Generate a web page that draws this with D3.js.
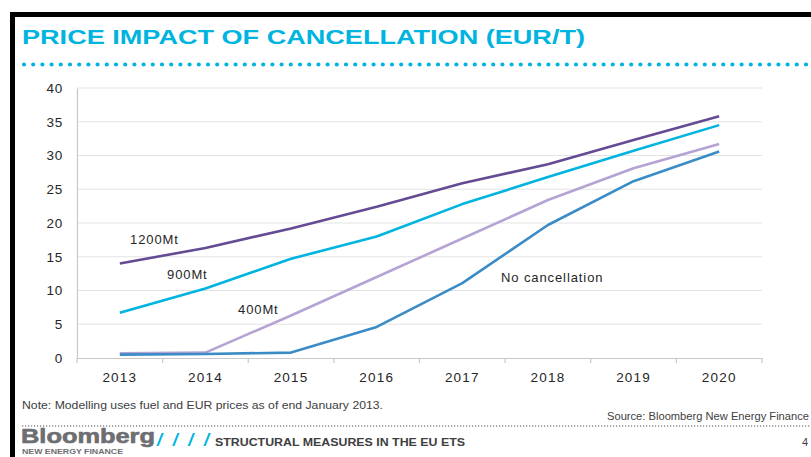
<!DOCTYPE html>
<html>
<head>
<meta charset="utf-8">
<script src="https://cdn.jsdelivr.net/npm/d3@7"></script>
<style>
  html, body { margin: 0; padding: 0; background: #fff; }
  svg { display: block; font-family: "Liberation Sans", Arial, sans-serif; }
</style>
</head>
<body>
<svg id="chart" width="811" height="457"></svg>
<script>
// ---- data ----
const years = ["2013", "2014", "2015", "2016", "2017", "2018", "2019", "2020"];
const yTicks = [0, 5, 10, 15, 20, 25, 30, 35, 40];
const seriesNames = ["1200Mt", "900Mt", "400Mt", "No cancellation"];
const s1200 = [14.0, 16.3, 19.2, 22.4, 25.9, 28.7, 32.3, 35.8];
const s900  = [6.7, 10.3, 14.7, 18.0, 22.8, 26.8, 30.7, 34.5];
const s400  = [0.7, 0.8, 6.3, 12.0, 17.7, 23.4, 28.1, 31.7];
const sNone = [0.5, 0.6, 0.8, 4.6, 11.1, 19.7, 26.2, 30.6];
const seriesColors = ["#644b93", "#00b4e0", "#b4a3d3", "#3b8cc6"];

const title = "PRICE IMPACT OF CANCELLATION (EUR/T)";
const note = "Note: Modelling uses fuel and EUR prices as of end January 2013.";
const source = "Source: Bloomberg New Energy Finance";
const footerTitle = "STRUCTURAL MEASURES IN THE EU ETS";
const pageNum = "4";

// ---- layout ----
const svg = d3.select("#chart");
const W = 811, H = 457;
const plot = { left: 77, right: 762, top: 88, bottom: 358 };

// slide frame
svg.append("rect").attr("x", 10).attr("y", 12).attr("width", W - 10).attr("height", 5).attr("fill", "#000");
svg.append("rect").attr("x", 10).attr("y", 12).attr("width", 5).attr("height", H - 12).attr("fill", "#000");

// title
svg.append("text").attr("x", 22).attr("y", 44)
  .attr("font-size", 21).attr("font-weight", "bold").attr("fill", "#00b4e0")
  .attr("textLength", 563).attr("lengthAdjust", "spacingAndGlyphs")
  .text(title);

// dotted line under title
svg.append("line").attr("x1", 24).attr("x2", W).attr("y1", 64.5).attr("y2", 64.5)
  .attr("stroke", "#00b4e0").attr("stroke-width", 4.2)
  .attr("stroke-linecap", "round").attr("stroke-dasharray", "0 9.2");

// scales
const x = d3.scaleBand().domain(years).range([plot.left, plot.right]);
const y = d3.scaleLinear().domain([0, 40]).range([plot.bottom, plot.top]);

// gridlines
svg.append("g").selectAll("line").data(yTicks.filter(d => d > 0)).join("line")
  .attr("x1", plot.left).attr("x2", plot.right)
  .attr("y1", d => y(d)).attr("y2", d => y(d))
  .attr("stroke", "#e3e3e3").attr("stroke-width", 1.2);

// y axis
const yAxis = svg.append("g").attr("transform", `translate(${plot.left},0)`)
  .call(d3.axisLeft(y).tickValues(yTicks).tickSize(0).tickPadding(14));
yAxis.select(".domain").attr("stroke", "#c8c8c8").attr("stroke-width", 1.2);
yAxis.selectAll("text").attr("font-size", 13.5).attr("fill", "#262626")
  .attr("font-family", "Liberation Sans, Arial, sans-serif").attr("letter-spacing", 0.8);

// x axis
const xAxis = svg.append("g").attr("transform", `translate(0,${plot.bottom})`)
  .call(d3.axisBottom(x).tickSize(0).tickPadding(14));
xAxis.select(".domain").attr("stroke", "#c8c8c8").attr("stroke-width", 1.2);
xAxis.selectAll("text").attr("font-size", 13.5).attr("fill", "#262626")
  .attr("font-family", "Liberation Sans, Arial, sans-serif").attr("letter-spacing", 1.2);
// tick marks at category boundaries
const bounds = years.map(d => x(d)).concat([plot.right]);
svg.append("g").selectAll("line").data(bounds).join("line")
  .attr("x1", d => d).attr("x2", d => d)
  .attr("y1", plot.bottom).attr("y2", plot.bottom + 5)
  .attr("stroke", "#c8c8c8").attr("stroke-width", 1.2);

// lines
const allSeries = [s1200, s900, s400, sNone];
const line = d3.line()
  .x((d, i) => x(years[i]) + x.bandwidth() / 2)
  .y(d => y(d));
const drawOrder = [2, 3, 1, 0];
drawOrder.forEach(k => {
  svg.append("path").datum(allSeries[k])
    .attr("d", line).attr("fill", "none")
    .attr("stroke", seriesColors[k]).attr("stroke-width", 2.6)
    .attr("stroke-linejoin", "round");
});

// series labels
const labelPos = [
  { name: seriesNames[0], x: 130, y: 244 },
  { name: seriesNames[1], x: 167, y: 279 },
  { name: seriesNames[2], x: 238, y: 314 },
  { name: seriesNames[3], x: 501, y: 282 }
];
svg.append("g").selectAll("text").data(labelPos).join("text")
  .attr("x", d => d.x).attr("y", d => d.y)
  .attr("font-size", 13).attr("fill", "#262626").attr("letter-spacing", 0.9)
  .text(d => d.name);

// footer note & source
svg.append("text").attr("x", 22).attr("y", 409)
  .attr("font-size", 10.5).attr("fill", "#404040")
  .attr("textLength", 361).attr("lengthAdjust", "spacingAndGlyphs")
  .text(note);
svg.append("text").attr("x", 607).attr("y", 420)
  .attr("font-size", 10.5).attr("fill", "#404040")
  .attr("textLength", 202).attr("lengthAdjust", "spacingAndGlyphs")
  .text(source);

// grey dotted separator
svg.append("line").attr("x1", 22).attr("x2", W).attr("y1", 426).attr("y2", 426)
  .attr("stroke", "#8a8a8a").attr("stroke-width", 1.3)
  .attr("stroke-dasharray", "1.2 1.8");

// Bloomberg logo text
svg.append("text").attr("x", 21).attr("y", 443)
  .attr("font-size", 20).attr("font-weight", "bold").attr("fill", "#6d6e71")
  .attr("stroke", "#6d6e71").attr("stroke-width", 0.6)
  .attr("textLength", 134).attr("lengthAdjust", "spacingAndGlyphs")
  .text("Bloomberg");
svg.append("text").attr("x", 22).attr("y", 454)
  .attr("font-size", 8).attr("font-weight", "bold").attr("fill", "#6d6e71")
  .attr("textLength", 101).attr("lengthAdjust", "spacingAndGlyphs")
  .text("NEW ENERGY FINANCE");
svg.append("text").attr("x", 157).attr("y", 446)
  .attr("font-size", 18).attr("font-weight", "bold").attr("font-style", "italic")
  .attr("fill", "#00b4e0")
  .attr("textLength", 52).attr("lengthAdjust", "spacing")
  .text("/ / / /");
svg.append("text").attr("x", 215).attr("y", 446)
  .attr("font-size", 10.5).attr("font-weight", "bold").attr("fill", "#404040")
  .attr("textLength", 250).attr("lengthAdjust", "spacingAndGlyphs")
  .text(footerTitle);
svg.append("text").attr("x", 808).attr("y", 446).attr("text-anchor", "end")
  .attr("font-size", 11).attr("fill", "#404040")
  .text(pageNum);
</script>
</body>
</html>
